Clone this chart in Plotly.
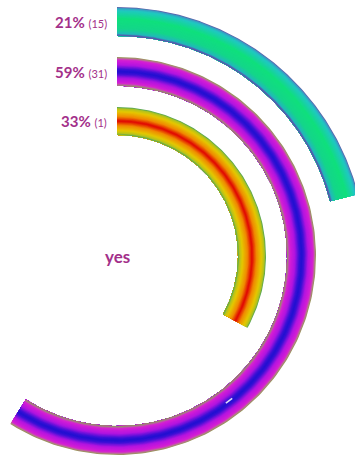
import numpy as np
import plotly.graph_objects as go

# Radial progress rings: share of "yes" answers per group
percent = [21, 59, 33]
counts = [15, 31, 1]
center_label = "yes"

# ring geometry in pixels (outer radius, inner radius)
ring_radii = [(249, 220), (199, 170), (149, 121)]

# colour profile across each ring, from outer edge to inner edge
ring_profiles = [
    [(0.0, "#6b4a9e"), (0.04, "#3a9cc4"), (0.12, "#1fc8c2"), (0.4, "#0fe07c"),
     (0.75, "#14d68a"), (0.92, "#22b8bc"), (0.97, "#4f5fb0"), (1.0, "#6e3fa0")],
    [(0.0, "#8ea046"), (0.04, "#b47a8c"), (0.1, "#d81ed4"), (0.27, "#b414e0"),
     (0.42, "#3a10d6"), (0.5, "#2010d0"), (0.58, "#3a10d6"), (0.73, "#b014e0"),
     (0.9, "#d81ed4"), (0.96, "#b06e94"), (1.0, "#7ea046")],
    [(0.0, "#3e9e62"), (0.05, "#aec222"), (0.16, "#e4c800"), (0.34, "#f08a00"),
     (0.5, "#e00404"), (0.66, "#f08a00"), (0.84, "#e4c800"), (0.95, "#aec222"),
     (1.0, "#3e9e62")],
]

label_color = "#a3308a"


def hex_to_rgb(h):
    h = h.lstrip("#")
    return np.array([int(h[i:i + 2], 16) for i in (0, 2, 4)], dtype=float)


def profile_color(profile, f):
    for (f0, c0), (f1, c1) in zip(profile[:-1], profile[1:]):
        if f0 <= f <= f1:
            t = 0 if f1 == f0 else (f - f0) / (f1 - f0)
            c = hex_to_rgb(c0) * (1 - t) + hex_to_rgb(c1) * t
            return "rgb(%d,%d,%d)" % tuple(np.round(c))
    return profile[-1][1]


def band_path(r_out, r_in, frac, n=200):
    # angle measured clockwise from 12 o'clock
    t = np.linspace(0, 2 * np.pi * frac, n)
    xo, yo = r_out * np.sin(t), r_out * np.cos(t)
    xi, yi = r_in * np.sin(t[::-1]), r_in * np.cos(t[::-1])
    x = np.concatenate([xo, xi, xo[:1]])
    y = np.concatenate([yo, yi, yo[:1]])
    return x, y


fig = go.Figure()
n_bands = 40
for pct, (r_out, r_in), prof in zip(percent, ring_radii, ring_profiles):
    frac = pct / 100.0
    edges = np.linspace(r_out, r_in, n_bands + 1)
    # each band reaches down to the inner edge and is painted over by the next,
    # so neighbouring bands never leave a seam between them
    for k in range(n_bands):
        f = (k + 0.5) / n_bands
        col = profile_color(prof, f)
        x, y = band_path(edges[k], r_in, frac)
        fig.add_trace(go.Scatter(
            x=x, y=y, mode="lines", fill="toself", fillcolor=col,
            line=dict(color=col, width=0), hoverinfo="skip", showlegend=False,
        ))

# small glossy highlight on the middle ring
mid_out, mid_in = ring_radii[1]
t_hl = np.linspace(np.radians(141), np.radians(143.5), 10)
r_hl = mid_in + 0.45 * (mid_out - mid_in)
fig.add_trace(go.Scatter(
    x=r_hl * np.sin(t_hl), y=r_hl * np.cos(t_hl), mode="lines",
    line=dict(color="rgba(255,255,255,0.85)", width=1.6), hoverinfo="skip",
    showlegend=False,
))

annotations = []
for pct, cnt, (r_out, r_in) in zip(percent, counts, ring_radii):
    annotations.append(dict(
        x=-8, y=(r_out + r_in) / 2, xref="x", yref="y",
        xanchor="right", yanchor="middle", showarrow=False,
        text="<b>%d%%</b> <span style='font-size:11px'>(%d)</span>" % (pct, cnt),
        font=dict(family="Lato", size=15, color=label_color),
    ))
annotations.append(dict(
    x=0, y=0, xref="x", yref="y", xanchor="center", yanchor="middle",
    showarrow=False, text="<b>%s</b>" % center_label,
    font=dict(family="Lato", size=17, color=label_color),
))

fig.update_layout(
    width=355, height=456,
    margin=dict(l=0, r=0, t=0, b=0),
    paper_bgcolor="white", plot_bgcolor="white",
    xaxis=dict(range=[-117, 238], visible=False, fixedrange=True),
    yaxis=dict(range=[-200, 256], visible=False, fixedrange=True),
    annotations=annotations,
    showlegend=False,
)

fig.write_html("out.html")
